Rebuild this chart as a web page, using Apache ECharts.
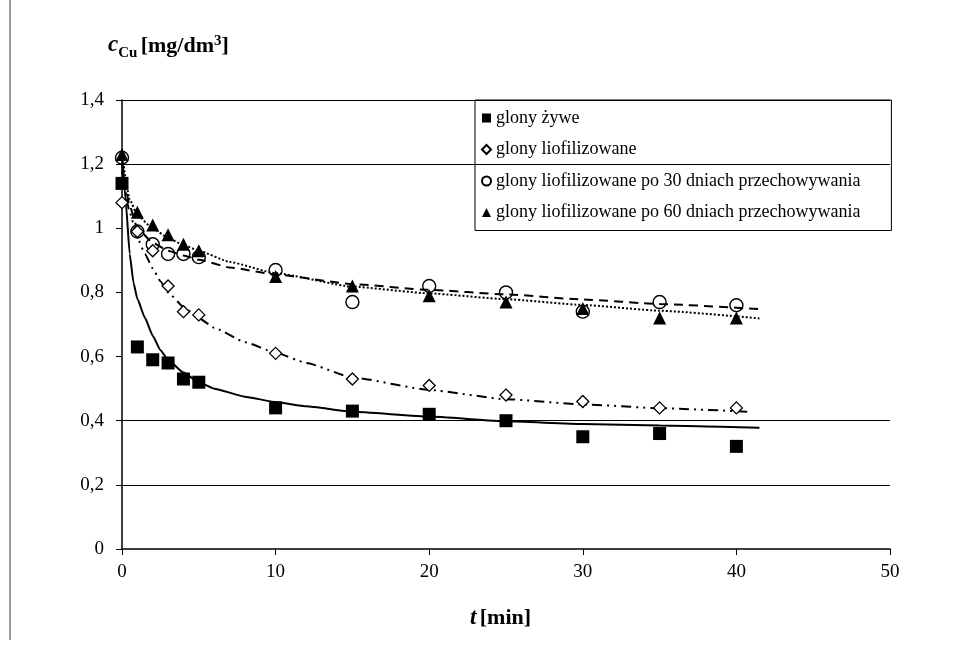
<!DOCTYPE html>
<html>
<head>
<meta charset="utf-8">
<script src="https://cdn.jsdelivr.net/npm/echarts@6/dist/echarts.min.js"></script>
<style>
	html,body{margin:0;padding:0;background:#fff;}
	#chart{width:977px;height:646px;}
</style>
</head>
<body>
<div id="chart"></div>
<script>
// czas pomiaru [min]
var czas = [0, 1, 2, 3, 4, 5, 10, 15, 20, 25, 30, 35, 40];

// stezenie miedzi - punkty pomiarowe
var glonyZywe = [1.14, 0.63, 0.59, 0.58, 0.53, 0.52, 0.44, 0.43, 0.42, 0.40, 0.35, 0.36, 0.32];
var glonyLiof = [1.08, 0.99, 0.93, 0.82, 0.74, 0.73, 0.61, 0.53, 0.51, 0.48, 0.46, 0.44, 0.44];
var glonyLiof30 = [1.22, 0.99, 0.95, 0.92, 0.92, 0.91, 0.87, 0.77, 0.82, 0.80, 0.74, 0.77, 0.76];
var glonyLiof60 = [1.23, 1.05, 1.01, 0.98, 0.95, 0.93, 0.85, 0.82, 0.79, 0.77, 0.75, 0.72, 0.72];

// linie trendu
var trendZyweT = [0, 0.25, 0.5, 0.75, 1, 1.5, 2, 2.5, 3, 4, 5, 6, 8, 10, 12, 15, 20, 25, 30, 35, 41.5];
var trendZyweY = [1.24, 1.08, 0.92, 0.83, 0.78, 0.72, 0.665, 0.62, 0.59, 0.55, 0.52, 0.50, 0.475, 0.458, 0.445, 0.428, 0.413, 0.398, 0.39, 0.385, 0.378];
var trendLiofT = [0, 0.5, 1, 1.5, 2, 2.5, 3, 4, 5, 6, 8, 10, 12, 15, 20, 25, 30, 35, 40.8];
var trendLiofY = [1.18, 1.05, 0.97, 0.92, 0.875, 0.835, 0.80, 0.755, 0.72, 0.69, 0.645, 0.612, 0.58, 0.535, 0.496, 0.467, 0.451, 0.439, 0.428];
var trendLiof30T = [0, 0.5, 1, 2, 3, 4, 5, 7, 10, 15, 20, 25, 30, 35, 41.5];
var trendLiof30Y = [1.20, 1.07, 1.00, 0.955, 0.93, 0.915, 0.902, 0.878, 0.856, 0.826, 0.808, 0.794, 0.778, 0.764, 0.748];
var trendLiof60T = [0, 0.5, 1, 2, 3, 4, 5, 7, 10, 15, 20, 25, 30, 35, 41.5];
var trendLiof60Y = [1.23, 1.09, 1.04, 1.00, 0.97, 0.948, 0.93, 0.895, 0.86, 0.818, 0.797, 0.779, 0.761, 0.743, 0.719];

// linie siatki widoczne na oryginale
var liniePoziome = [1.4, 1.2, 0.4, 0.2];

var nazwy = ['glony żywe', 'glony liofilizowane',
	'glony liofilizowane po 30 dniach przechowywania',
	'glony liofilizowane po 60 dniach przechowywania'];

function pary(xs, ys) {
	return xs.map(function (x, i) { return [x, ys[i]]; });
}

var chart = echarts.init(document.getElementById('chart'));
var FONT = '"Liberation Serif", "DejaVu Serif", serif';

function trend(xs, ys, typ) {
	return {
		type: 'line',
		data: pary(xs, ys),
		showSymbol: false,
		smooth: 0.15,
		smoothMonotone: 'x',
		silent: true,
		z: 2,
		lineStyle: { color: '#000', width: 2, type: typ }
	};
}

chart.setOption({
	animation: false,
	backgroundColor: '#fff',
	textStyle: { fontFamily: FONT },
	grid: { left: 122, right: 87, top: 100, bottom: 97 },
	legend: {
		data: nazwy,
		orient: 'vertical',
		left: 475,
		top: 100,
		padding: [9, 31, 9, 6],
		itemGap: 13.5,
		itemWidth: 9,
		itemHeight: 9,
		borderColor: '#000',
		borderWidth: 1,
		selectedMode: false,
		textStyle: { fontFamily: FONT, fontSize: 18, lineHeight: 18, color: '#000' }
	},
	xAxis: {
		type: 'value',
		min: 0, max: 50, interval: 10,
		axisLine: { lineStyle: { color: '#000', width: 1.5 } },
		axisTick: { show: true, length: 6, lineStyle: { color: '#000' } },
		axisLabel: { fontFamily: FONT, fontSize: 19, color: '#000', margin: 14 },
		splitLine: { show: false }
	},
	yAxis: {
		type: 'value',
		min: 0, max: 1.4, interval: 0.2,
		axisLine: { show: true, lineStyle: { color: '#000', width: 1.5 } },
		axisTick: { show: true, length: 6, lineStyle: { color: '#000' } },
		axisLabel: {
			fontFamily: FONT, fontSize: 19, color: '#000', margin: 18,
			formatter: function (v) { return String(+v.toFixed(1)).replace('.', ','); }
		},
		splitLine: { show: false }
	},
	graphic: [
		{
			type: 'line', silent: true,
			shape: { x1: 10, y1: 0, x2: 10, y2: 640 },
			style: { stroke: '#999', lineWidth: 2 }
		},
		{
			type: 'text', left: 108, top: 34,
			style: {
				text: '{c|c}{s|Cu} {u|[mg/dm}{p|3}{u|]}',
				rich: {
					c: { fontFamily: FONT, fontSize: 23, fontWeight: 'bold', fontStyle: 'italic', fill: '#000', verticalAlign: 'bottom' },
					s: { fontFamily: FONT, fontSize: 15, fontWeight: 'bold', fill: '#000', verticalAlign: 'bottom', padding: [0, 0, -4, 0] },
					u: { fontFamily: FONT, fontSize: 22, fontWeight: 'bold', fill: '#000', verticalAlign: 'bottom' },
					p: { fontFamily: FONT, fontSize: 15, fontWeight: 'bold', fill: '#000', verticalAlign: 'top' }
				}
			}
		},
		{
			type: 'text', left: 470, top: 607,
			style: {
				text: '{i|t} {b|[min]}',
				rich: {
					i: { fontFamily: FONT, fontSize: 23, fontWeight: 'bold', fontStyle: 'italic', fill: '#000' },
					b: { fontFamily: FONT, fontSize: 22, fontWeight: 'bold', fill: '#000' }
				}
			}
		}
	],
	series: [
		{
			type: 'line', data: [], silent: true, z: 1,
			markLine: {
				silent: true, symbol: 'none', label: { show: false },
				lineStyle: { color: '#000', width: 1, type: 'solid' },
				data: liniePoziome.map(function (v) { return { yAxis: v }; })
			}
		},
		trend(trendZyweT, trendZyweY, 'solid'),
		trend(trendLiofT, trendLiofY, [10, 5, 2, 5, 2, 5]),
		trend(trendLiof30T, trendLiof30Y, [9, 6]),
		trend(trendLiof60T, trendLiof60Y, [2, 2]),
		{
			name: nazwy[0], type: 'scatter', data: pary(czas, glonyZywe),
			symbol: 'rect', symbolSize: 13, z: 5,
			itemStyle: { color: '#000', opacity: 1 }
		},
		{
			name: nazwy[1], type: 'scatter', data: pary(czas, glonyLiof),
			symbol: 'diamond', symbolSize: 12, z: 5,
			itemStyle: { color: '#fff', borderColor: '#000', borderWidth: 1.3, opacity: 1 }
		},
		{
			name: nazwy[2], type: 'scatter', data: pary(czas, glonyLiof30),
			symbol: 'circle', symbolSize: 13, z: 4,
			itemStyle: { color: 'rgba(255,255,255,0)', borderColor: '#000', borderWidth: 1.4, opacity: 1 }
		},
		{
			name: nazwy[3], type: 'scatter', data: pary(czas, glonyLiof60),
			symbol: 'triangle', symbolSize: 13, z: 5,
			itemStyle: { color: '#000', opacity: 1 }
		}
	]
});
</script>
</body>
</html>
